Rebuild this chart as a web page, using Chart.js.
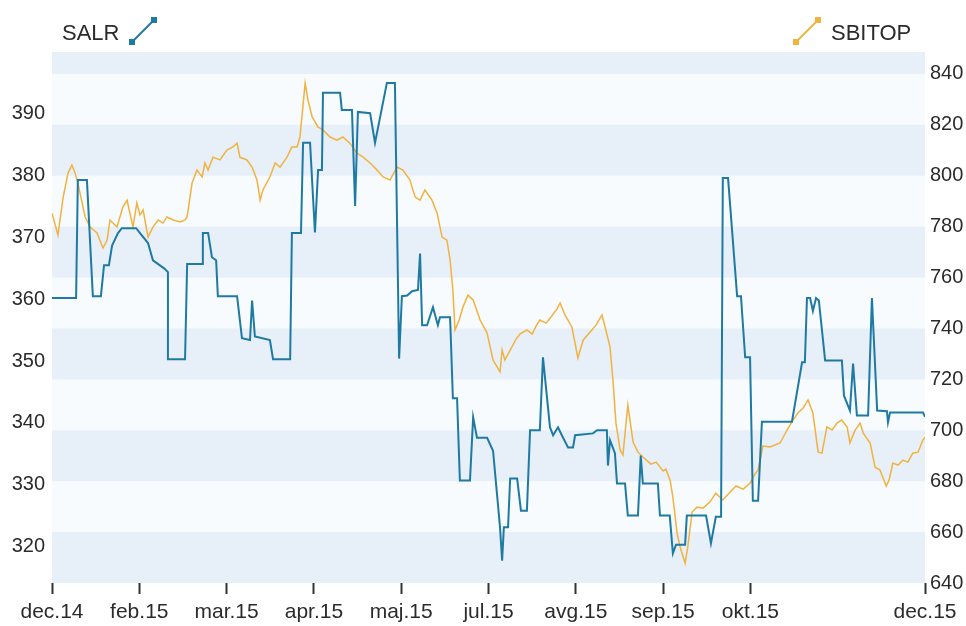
<!DOCTYPE html>
<html>
<head>
<meta charset="utf-8">
<script src="https://cdn.jsdelivr.net/npm/chart.js@4.4.1/dist/chart.umd.min.js"></script>
<style>
  html, body { margin: 0; padding: 0; background: #ffffff; }
  #wrap { width: 966px; height: 626px; position: relative; }
</style>
</head>
<body>
<div id="wrap"><canvas id="salr_chart"></canvas></div>
<script>
// x axis: trading-day index, ticks every 25 days (the one before dec.15 is not shown)
const tickDays = [0, 25, 50, 75, 100, 125, 150, 175, 200, 250];
const tickLabels = ['dec.14', 'feb.15', 'mar.15', 'apr.15', 'maj.15', 'jul.15', 'avg.15', 'sep.15', 'okt.15', 'dec.15'];

const leftTicks = [320, 330, 340, 350, 360, 370, 380, 390];
const rightTicks = [640, 660, 680, 700, 720, 740, 760, 780, 800, 820, 840];

// SALR (left axis)
const salrDays = [
  0, 6.9, 7.4, 10.0, 11.7, 14.0, 14.9, 16.3, 17.2, 18.9,
  20.0, 24.1, 25.2, 27.5, 28.9, 32.1, 33.2, 33.2, 38.1, 38.7,
  43.0, 43.2, 44.7, 45.8, 47.0, 47.5, 53.0, 54.4, 56.7, 57.3,
  58.1, 62.4, 63.3, 68.2, 68.7, 71.3, 71.9, 73.9, 75.3, 76.2,
  77.3, 77.6, 82.5, 83.0, 85.9, 86.8, 87.6, 91.1, 92.5, 95.9,
  98.2, 99.4, 100.2, 101.7, 103.1, 104.8, 105.4, 106.0, 107.4, 109.1,
  110.5, 111.1, 114.0, 114.8, 116.0, 116.8, 119.7, 120.6, 121.7, 124.6,
  126.3, 128.3, 128.9, 129.4, 130.6, 131.2, 133.2, 134.3, 136.0, 136.9,
  139.7, 140.6, 142.6, 143.5, 144.9, 146.0, 147.8, 149.2, 149.8, 154.9,
  156.1, 158.9, 159.2, 159.8, 161.2, 161.8, 164.1, 164.9, 167.8, 168.6,
  169.2, 173.5, 174.1, 176.9, 177.8, 178.7, 181.3, 181.8, 187.3, 188.7,
  190.1, 191.6, 192.1, 193.6, 196.2, 197.3, 198.5, 199.9, 200.7, 202.2,
  203.3, 211.9, 214.8, 215.6, 216.2, 217.1, 217.9, 218.8, 219.6, 221.4,
  226.2, 226.8, 228.5, 229.4, 230.5, 233.7, 234.8, 236.3, 239.1, 239.4,
  240.0, 249.4, 250
];
const salrValues = [
  360.2, 360.2, 379.3, 379.3, 360.5, 360.5, 365.5, 365.5, 368.7, 370.7,
  371.5, 371.5, 370.7, 369.1, 366.3, 365.0, 364.4, 350.3, 350.3, 365.7,
  365.7, 370.7, 370.7, 366.8, 366.3, 360.5, 360.5, 353.7, 353.4, 359.8,
  354.0, 353.4, 350.3, 350.3, 370.7, 370.7, 385.3, 385.3, 370.8, 380.9,
  380.9, 393.4, 393.4, 390.6, 390.6, 375.1, 390.3, 390.1, 385.3, 395.0,
  395.0, 350.4, 360.5, 360.6, 361.3, 361.5, 367.4, 355.8, 355.8, 358.7,
  355.8, 357.1, 357.1, 344.0, 344.0, 330.7, 330.7, 340.9, 337.6, 337.6,
  335.5, 323.1, 317.7, 323.1, 323.1, 331.0, 331.0, 325.8, 325.8, 338.8,
  338.8, 350.6, 339.3, 338.0, 339.3, 338.0, 336.0, 336.0, 338.0, 338.3,
  338.8, 338.8, 333.1, 337.2, 335.1, 330.2, 330.2, 325.0, 325.0, 334.7,
  330.2, 330.2, 325.0, 325.0, 318.9, 320.3, 320.3, 325.0, 325.0, 320.5,
  324.8, 324.8, 379.6, 379.6, 360.5, 360.5, 350.6, 350.6, 327.4, 327.4,
  340.2, 340.2, 349.8, 349.8, 360.2, 360.2, 358.1, 360.2, 359.8, 350.1,
  350.1, 344.4, 342.0, 349.6, 341.2, 341.2, 360.2, 342.0, 341.9, 340.1,
  341.7, 341.7, 341.0
];

// SBITOP (right axis)
const sbitopDays = [
  0, 1.7, 3.2, 4.6, 5.7, 6.6, 7.4, 9.5, 10.9, 12.9,
  14.6, 15.8, 16.6, 18.6, 20.3, 21.5, 22.3, 23.2, 24.3, 25.2,
  26.1, 27.5, 28.9, 30.4, 31.8, 32.9, 34.7, 36.7, 38.1, 38.7,
  40.1, 41.5, 43.0, 43.8, 44.7, 46.1, 48.1, 50.1, 51.8, 53.0,
  53.8, 55.8, 57.3, 58.7, 59.6, 60.4, 62.4, 63.9, 65.3, 67.3,
  68.7, 70.2, 71.0, 72.5, 73.3, 74.5, 76.2, 77.6, 79.6, 81.6,
  83.3, 85.3, 87.3, 89.1, 91.1, 93.1, 94.8, 96.8, 98.8, 100.5,
  102.5, 104.0, 105.4, 106.8, 108.8, 110.3, 111.7, 113.1, 114.0, 114.8,
  115.4, 116.6, 117.7, 119.1, 120.6, 122.6, 124.6, 126.3, 128.3, 128.9,
  129.7, 131.2, 132.9, 134.0, 136.0, 137.5, 138.6, 139.7, 141.5, 142.9,
  144.6, 145.5, 146.9, 148.9, 150.6, 152.1, 154.1, 155.8, 157.5, 158.6,
  159.8, 160.7, 161.5, 162.7, 163.5, 164.9, 166.4, 167.8, 169.2, 171.5,
  173.0, 175.0, 175.8, 177.0, 177.8, 179.0, 179.8, 181.3, 182.1, 183.3,
  184.7, 186.4, 188.4, 190.1, 192.1, 193.6, 195.9, 197.9, 199.9, 201.3,
  202.2, 203.6, 205.6, 208.5, 210.5, 212.2, 213.6, 215.1, 216.5, 217.9,
  219.4, 220.5, 221.9, 223.4, 224.8, 226.2, 227.7, 228.5, 230.0, 231.4,
  232.3, 234.3, 235.7, 237.1, 238.9, 239.7, 240.8, 242.3, 243.7, 245.1,
  246.5, 248.0, 249.4, 250
];
const sbitopValues = [
  785.3, 776.7, 791.6, 801.1, 804.2, 801.1, 797.1, 783.8, 779.8, 777.5,
  771.6, 774.7, 782.6, 779.8, 787.7, 790.4, 785.3, 779.8, 789.3, 784.6,
  786.5, 775.9, 779.8, 782.6, 781.4, 783.8, 782.6, 781.8, 782.6, 783.8,
  797.1, 802.2, 799.5, 805.0, 802.2, 807.3, 806.2, 810.1, 811.3, 812.8,
  807.3, 806.2, 803.4, 798.3, 790.4, 794.4, 799.5, 805.0, 803.4, 807.3,
  811.3, 811.3, 815.2, 836.4, 829.7, 823.1, 819.1, 818.0, 815.2, 814.0,
  815.2, 812.8, 808.9, 807.3, 805.0, 802.2, 799.5, 798.3, 803.4, 802.2,
  798.3, 791.6, 790.4, 794.4, 790.4, 785.3, 775.9, 774.7, 766.9, 755.1,
  739.4, 743.3, 748.4, 753.1, 751.2, 743.3, 738.2, 727.6, 722.9, 731.5,
  727.6, 731.5, 735.8, 737.8, 739.4, 737.8, 740.9, 743.3, 742.1, 744.5,
  747.6, 750.0, 745.3, 740.5, 728.4, 735.4, 738.6, 741.3, 745.3, 739.4,
  732.7, 718.5, 702.8, 692.2, 690.3, 709.9, 695.4, 691.4, 689.5, 686.7,
  687.5, 684.0, 684.7, 680.4, 673.7, 659.6, 654.5, 647.8, 654.5, 667.9,
  669.8, 669.4, 671.8, 675.3, 672.6, 674.9, 678.1, 676.9, 679.2, 682.8,
  684.4, 693.8, 693.4, 695.0, 700.1, 704.0, 706.8, 708.7, 711.9, 706.8,
  691.4, 691.0, 701.3, 700.1, 702.8, 704.0, 701.3, 695.0, 700.1, 702.8,
  698.9, 695.0, 685.5, 684.4, 678.1, 680.4, 687.1, 686.3, 688.3, 687.5,
  691.0, 691.4, 696.1, 697.3
];

const salrColor = '#1f7aa3';
const sbitopColor = '#f1b23e';
const textColor = '#2b2b2b';
const fontFamily = "'Liberation Sans', Arial, sans-serif";

Chart.defaults.font.family = fontFamily;
Chart.defaults.color = textColor;

// alternating horizontal bands, taken from the right axis ticks
const bandsPlugin = {
  id: 'bands',
  beforeDatasetsDraw(chart) {
    const { ctx, chartArea } = chart;
    const scale = chart.scales.y1;
    ctx.save();
    ctx.fillStyle = '#f7fbfe';
    ctx.fillRect(chartArea.left, chartArea.top, chartArea.right - chartArea.left, chartArea.bottom - chartArea.top);
    ctx.fillStyle = '#e7eff8';
    for (let i = 0; i < rightTicks.length; i += 2) {
      const lo = rightTicks[i];
      const hi = i + 1 < rightTicks.length ? rightTicks[i + 1] : scale.max;
      const yTop = scale.getPixelForValue(hi);
      const yBot = scale.getPixelForValue(lo);
      ctx.fillRect(chartArea.left, yTop, chartArea.right - chartArea.left, yBot - yTop);
    }
    ctx.restore();
  }
};

function drawKey(ctx, x1, y1, x2, y2, color) {
  ctx.strokeStyle = color;
  ctx.fillStyle = color;
  ctx.lineWidth = 2;
  ctx.beginPath();
  ctx.moveTo(x1, y1);
  ctx.lineTo(x2, y2);
  ctx.stroke();
  ctx.fillRect(x1 - 3, y1 - 3, 6, 6);
  ctx.fillRect(x2 - 3, y2 - 3, 6, 6);
}

// one legend entry at each top corner
const cornerLegend = {
  id: 'cornerLegend',
  afterDraw(chart) {
    const ctx = chart.ctx;
    const sets = chart.data.datasets;
    ctx.save();
    ctx.font = '22px ' + fontFamily;
    ctx.textBaseline = 'middle';
    ctx.fillStyle = textColor;
    ctx.textAlign = 'left';
    ctx.fillText(sets[0].label, 62, 34);
    drawKey(ctx, 132, 42, 154, 20, sets[0].borderColor);
    ctx.fillStyle = textColor;
    ctx.fillText(sets[1].label, 831, 34);
    drawKey(ctx, 796, 42, 818, 20, sets[1].borderColor);
    ctx.restore();
  }
};

const ctx = document.getElementById('salr_chart');

new Chart(ctx, {
  type: 'line',
  data: {
    datasets: [
      {
        label: 'SALR',
        data: salrDays.map((d, i) => ({ x: d, y: salrValues[i] })),
        yAxisID: 'y',
        borderColor: salrColor,
        borderWidth: 2,
        pointRadius: 0,
        tension: 0
      },
      {
        label: 'SBITOP',
        data: sbitopDays.map((d, i) => ({ x: d, y: sbitopValues[i] })),
        yAxisID: 'y1',
        borderColor: sbitopColor,
        borderWidth: 1.5,
        pointRadius: 0,
        tension: 0
      }
    ]
  },
  options: {
    responsive: true,
    maintainAspectRatio: false,
    animation: false,
    layout: { padding: { top: 52, left: 0, right: 0, bottom: 0 } },
    plugins: { legend: { display: false }, tooltip: { enabled: false } },
    scales: {
      x: {
        type: 'linear',
        position: 'bottom',
        min: 0,
        max: 250,
        afterBuildTicks(scale) { scale.ticks = tickDays.map(v => ({ value: v })); },
        afterFit(scale) { scale.height = 43; },
        ticks: {
          autoSkip: false,
          maxRotation: 0,
          minRotation: 0,
          padding: 6,
          font: { size: 21 },
          callback: (value) => tickLabels[tickDays.indexOf(value)]
        },
        grid: { display: true, drawOnChartArea: false, drawTicks: true, tickLength: 11, tickWidth: 2, tickColor: '#333' },
        border: { display: false }
      },
      y: {
        position: 'left',
        min: 314.1,
        max: 400,
        afterBuildTicks(scale) { scale.ticks = leftTicks.map(v => ({ value: v })); },
        afterFit(scale) { scale.width = 52; },
        ticks: { padding: 7, font: { size: 20 } },
        grid: { display: false, drawTicks: false },
        border: { display: false }
      },
      y1: {
        position: 'right',
        min: 640,
        max: 848.6,
        afterBuildTicks(scale) { scale.ticks = rightTicks.map(v => ({ value: v })); },
        afterFit(scale) { scale.width = 41; },
        ticks: { padding: 5, font: { size: 20 } },
        grid: { display: false, drawTicks: false },
        border: { display: false }
      }
    }
  },
  plugins: [bandsPlugin, cornerLegend]
});
</script>
</body>
</html>
